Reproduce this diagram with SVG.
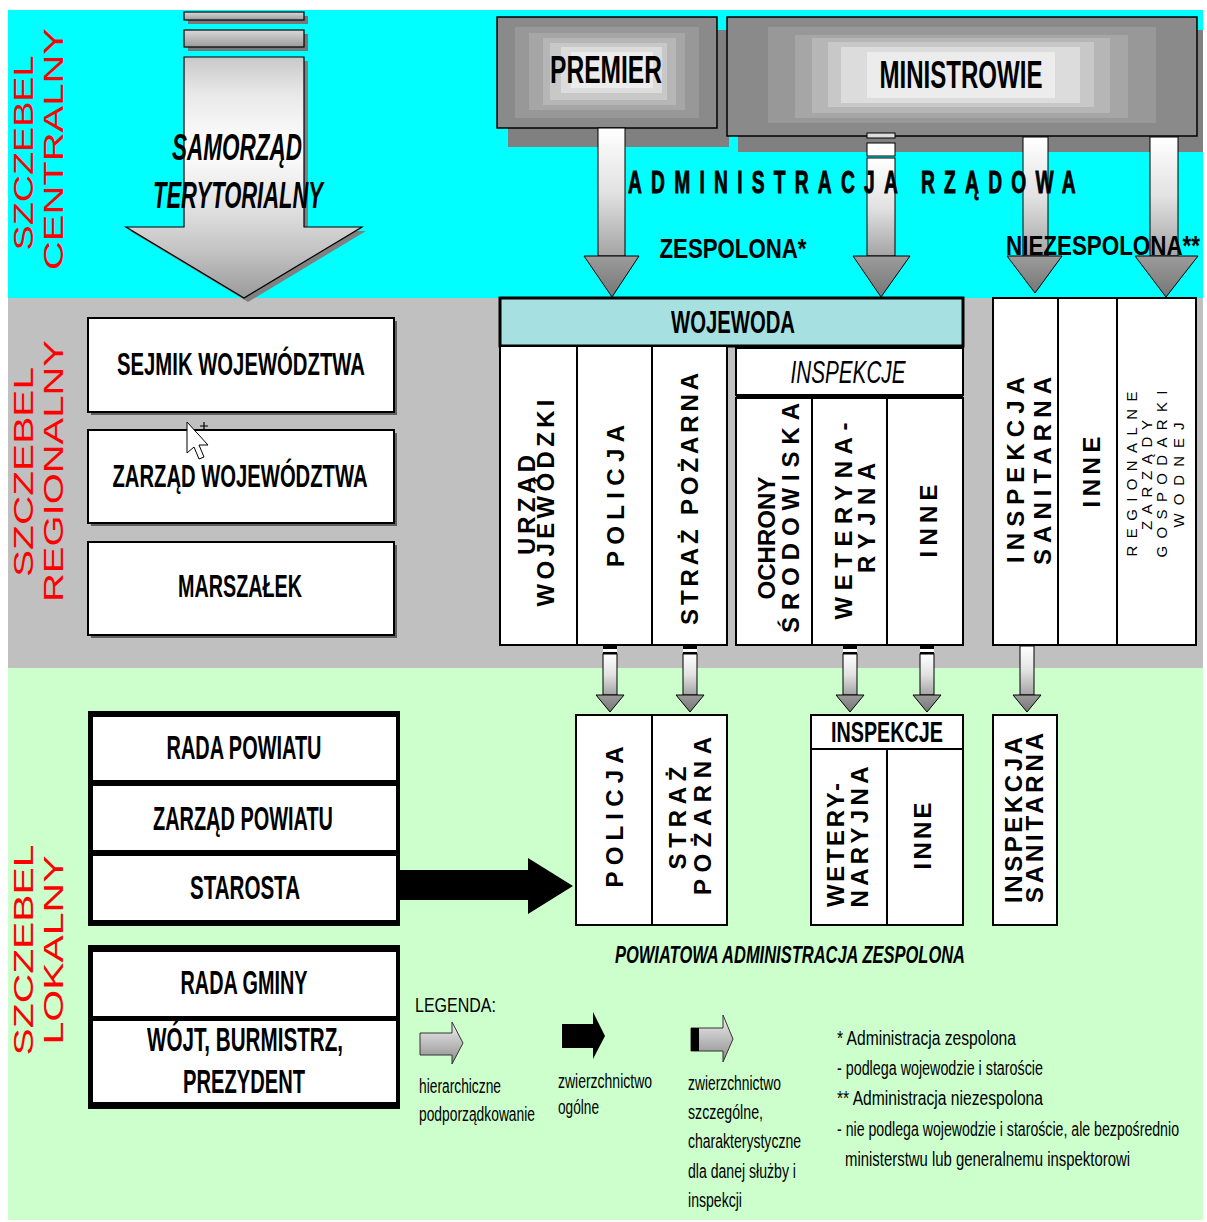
<svg xmlns="http://www.w3.org/2000/svg" width="1207" height="1222" viewBox="0 0 1207 1222">
<style>
.t{font-family:"Liberation Sans",Arial,sans-serif;fill:#000}
.b{font-weight:bold}
.i{font-style:italic}
.c{text-anchor:middle}
.red{font-family:"Liberation Sans",Arial,sans-serif;fill:#ff0000;font-size:28px;text-anchor:middle}
.vt{font-family:"Liberation Sans",Arial,sans-serif;font-weight:bold;font-size:24px;text-anchor:middle;fill:#000}
.vt2{font-family:"Liberation Sans",Arial,sans-serif;font-size:15px;text-anchor:middle;fill:#000}
.box{fill:#fff;stroke:#000;stroke-width:2}
.sh{fill:#606060}
.ln{stroke:#000;stroke-width:2}
.lg{font-family:"Liberation Sans",Arial,sans-serif;font-size:20px;fill:#000}
.ar{stroke:#000;stroke-width:1}
</style>
<defs>
<linearGradient id="gShaft" x1="0" y1="0" x2="0" y2="1">
<stop offset="0" stop-color="#ffffff"/><stop offset="0.5" stop-color="#e2e2e2"/><stop offset="1" stop-color="#a4a4a4"/>
</linearGradient>
<linearGradient id="gHead" x1="0" y1="0" x2="0" y2="1">
<stop offset="0" stop-color="#9c9c9c"/><stop offset="1" stop-color="#767676"/>
</linearGradient>
<linearGradient id="gBig" gradientUnits="userSpaceOnUse" x1="0" y1="57" x2="0" y2="298">
<stop offset="0" stop-color="#c8c8c8"/><stop offset="0.15" stop-color="#e8e8e8"/><stop offset="0.38" stop-color="#ffffff"/><stop offset="0.62" stop-color="#e2e2e2"/><stop offset="0.8" stop-color="#c4c4c4"/><stop offset="1" stop-color="#9a9a9a"/>
</linearGradient>
<linearGradient id="gBar" x1="0" y1="0" x2="0" y2="1">
<stop offset="0" stop-color="#d8d8d8"/><stop offset="1" stop-color="#9c9c9c"/>
</linearGradient>
<linearGradient id="gLeg" x1="0" y1="0" x2="0" y2="1">
<stop offset="0" stop-color="#f2f2f2"/><stop offset="1" stop-color="#8a8a8a"/>
</linearGradient>
</defs>

<!-- bands -->
<rect x="0" y="0" width="1207" height="1222" fill="#ffffff"/>
<rect x="8" y="10" width="1195" height="288" fill="#00ffff"/>
<rect x="8" y="298" width="1195" height="370" fill="#c0c0c0"/>
<rect x="8" y="668" width="1195" height="552" fill="#ccffcc"/>

<!-- level labels -->
<g id="labels">
<text class="red" transform="translate(33,153) rotate(-90)" textLength="195" lengthAdjust="spacingAndGlyphs">SZCZEBEL</text>
<text class="red" transform="translate(63,149) rotate(-90)" textLength="242" lengthAdjust="spacingAndGlyphs">CENTRALNY</text>
<text class="red" transform="translate(33,472) rotate(-90)" textLength="210" lengthAdjust="spacingAndGlyphs">SZCZEBEL</text>
<text class="red" transform="translate(63,471) rotate(-90)" textLength="262" lengthAdjust="spacingAndGlyphs">REGIONALNY</text>
<text class="red" transform="translate(33,950) rotate(-90)" textLength="211" lengthAdjust="spacingAndGlyphs">SZCZEBEL</text>
<text class="red" transform="translate(63,950) rotate(-90)" textLength="189" lengthAdjust="spacingAndGlyphs">LOKALNY</text>
</g>

<!-- samorzad arrow -->
<g id="samorzad">
<rect x="188" y="16" width="120" height="8" fill="#777"/>
<rect x="188" y="34" width="120" height="17" fill="#777"/>
<polygon points="188,61 308,61 308,231 366,231 248,302 130,231 188,231" fill="#808080"/>
<rect x="184" y="12" width="120" height="8" fill="url(#gBar)" stroke="#000" stroke-width="1.2"/>
<rect x="184" y="30" width="120" height="17" fill="url(#gBar)" stroke="#000" stroke-width="1.2"/>
<polygon points="184,57 304,57 304,227 362,227 244,298 126,227 184,227" fill="url(#gBig)" stroke="#000" stroke-width="1.2"/>
<text class="t b i c" x="237" y="160" font-size="36" textLength="130" lengthAdjust="spacingAndGlyphs">SAMORZĄD</text>
<text class="t b i c" x="238" y="208" font-size="36" textLength="170" lengthAdjust="spacingAndGlyphs">TERYTORIALNY</text>
</g>

<!-- premier -->
<g id="premier">
<rect x="508" y="30" width="221" height="117" fill="#808080"/>
<rect x="497" y="17" width="220" height="111" fill="#8a8a8a" stroke="#000" stroke-width="1.5"/>
<rect x="515" y="27" width="184" height="91" fill="#989898"/>
<rect x="529" y="33" width="156" height="77" fill="#a6a6a6"/>
<rect x="543" y="38" width="133" height="67" fill="#b6b6b6"/>
<rect x="550" y="43" width="117" height="57" fill="#c8c8c8"/>
<rect x="561" y="47" width="101" height="46" fill="#dcdcdc"/>
<rect x="571" y="52" width="82" height="36" fill="#ececec"/>
<text class="t b c" x="606" y="83" font-size="38" textLength="112" lengthAdjust="spacingAndGlyphs">PREMIER</text>
</g>

<!-- ministrowie -->
<g id="ministrowie">
<rect x="738" y="30" width="465" height="122" fill="#808080"/>
<rect x="727" y="17" width="470" height="119" fill="#8a8a8a" stroke="#000" stroke-width="1.5"/>
<rect x="768" y="27" width="388" height="96" fill="#989898"/>
<rect x="795" y="35" width="333" height="83" fill="#a6a6a6"/>
<rect x="812" y="38" width="298" height="75" fill="#b6b6b6"/>
<rect x="828" y="42" width="266" height="65" fill="#c8c8c8"/>
<rect x="841" y="47" width="239" height="56" fill="#dcdcdc"/>
<rect x="867" y="52" width="188" height="46" fill="#ececec"/>
<text class="t b c" x="961" y="88" font-size="38" textLength="163" lengthAdjust="spacingAndGlyphs">MINISTROWIE</text>
</g>

<!-- connectors -->
<g id="connectors">
<rect x="598" y="128" width="27" height="128" fill="url(#gShaft)" class="ar"/>
<polygon points="584,256 639,256 612,297" fill="url(#gHead)" class="ar"/>
<rect x="867" y="133" width="28" height="5" fill="#dddddd" class="ar"/>
<rect x="867" y="143" width="28" height="13" fill="#ffffff" class="ar"/>
<rect x="867" y="158" width="28" height="98" fill="url(#gShaft)" class="ar"/>
<polygon points="853,256 910,256 881,297" fill="url(#gHead)" class="ar"/>
<rect x="1023" y="137" width="25" height="119" fill="url(#gShaft)" class="ar"/>
<polygon points="1007,256 1062,256 1035,293" fill="url(#gHead)" class="ar"/>
<rect x="1150" y="137" width="28" height="119" fill="url(#gShaft)" class="ar"/>
<polygon points="1135,256 1198,256 1166,297" fill="url(#gHead)" class="ar"/>
<g>
<rect x="603" y="646" width="14" height="3" fill="#000"/><rect x="603" y="649" width="14" height="3" fill="#fff"/><rect x="603" y="652" width="14" height="2" fill="#000"/>
<rect x="603" y="654" width="14" height="41" fill="url(#gShaft)" class="ar"/>
<polygon points="596,695 624,695 610,712" fill="url(#gHead)" class="ar"/>
</g>
<g>
<rect x="683" y="646" width="14" height="3" fill="#000"/><rect x="683" y="649" width="14" height="3" fill="#fff"/><rect x="683" y="652" width="14" height="2" fill="#000"/>
<rect x="683" y="654" width="14" height="41" fill="url(#gShaft)" class="ar"/>
<polygon points="676,695 704,695 690,712" fill="url(#gHead)" class="ar"/>
</g>
<g>
<rect x="843" y="646" width="14" height="3" fill="#000"/><rect x="843" y="649" width="14" height="3" fill="#fff"/><rect x="843" y="652" width="14" height="2" fill="#000"/>
<rect x="843" y="654" width="14" height="41" fill="url(#gShaft)" class="ar"/>
<polygon points="836,695 864,695 850,712" fill="url(#gHead)" class="ar"/>
</g>
<g>
<rect x="920" y="646" width="14" height="3" fill="#000"/><rect x="920" y="649" width="14" height="3" fill="#fff"/><rect x="920" y="652" width="14" height="2" fill="#000"/>
<rect x="920" y="654" width="14" height="41" fill="url(#gShaft)" class="ar"/>
<polygon points="913,695 941,695 927,712" fill="url(#gHead)" class="ar"/>
</g>
<g>
<rect x="1020" y="646" width="14" height="49" fill="url(#gShaft)" class="ar"/>
<polygon points="1013,695 1041,695 1027,712" fill="url(#gHead)" class="ar"/>
</g>
<polygon points="396,870 528,870 528,858 573,886 528,914 528,900 396,900" fill="#000"/>
</g>

<!-- top labels -->
<g id="admin-labels">
<text class="t b" transform="translate(628,193) scale(0.62,1)" font-size="31" stroke="#000" stroke-width="0.9" textLength="722">ADMINISTRACJA RZĄDOWA</text>
<text class="t b c" x="733" y="258" font-size="28" textLength="147" lengthAdjust="spacingAndGlyphs">ZESPOLONA*</text>
<text class="t b" x="1006" y="255" font-size="28" textLength="194" lengthAdjust="spacingAndGlyphs">NIEZESPOLONA**</text>
</g>

<!-- regional left boxes -->
<g id="sejmik">
<rect x="91" y="321" width="306" height="94" class="sh"/>
<rect x="88" y="318" width="306" height="94" class="box" stroke-width="1.5"/>
<text class="t b c" x="241" y="375" font-size="32" textLength="248" lengthAdjust="spacingAndGlyphs">SEJMIK WOJEWÓDZTWA</text>
</g>
<g id="zarzad-woj">
<rect x="91" y="433" width="306" height="93" class="sh"/>
<rect x="88" y="430" width="306" height="93" class="box" stroke-width="1.5"/>
<text class="t b c" x="240" y="487" font-size="32" textLength="255" lengthAdjust="spacingAndGlyphs">ZARZĄD WOJEWÓDZTWA</text>
</g>
<g id="marszalek">
<rect x="91" y="545" width="306" height="93" class="sh"/>
<rect x="88" y="542" width="306" height="93" class="box" stroke-width="1.5"/>
<text class="t b c" x="240" y="597" font-size="32" textLength="124" lengthAdjust="spacingAndGlyphs">MARSZAŁEK</text>
</g>

<!-- cursor -->
<g id="cursor">
<polygon points="187,422 187,453 194,447 199,459 204,457 199,445 208,445" fill="#fff" stroke="#000" stroke-width="1"/>
<path d="M200,426 h8 M204,422 v8" stroke="#000" stroke-width="1.2"/>
</g>

<!-- wojewoda block -->
<g id="wojewoda">
<rect x="500" y="298" width="463" height="48" fill="#a6e0e0" stroke="#000" stroke-width="3"/>
<text class="t b c" x="733" y="333" font-size="32" textLength="124" lengthAdjust="spacingAndGlyphs">WOJEWODA</text>
</g>
<g id="zespolona-cols">
<rect x="500" y="346" width="227" height="299" class="box"/>
<line x1="577" y1="346" x2="577" y2="645" class="ln" stroke-width="1.5"/>
<line x1="652" y1="346" x2="652" y2="645" class="ln" stroke-width="1.5"/>
<text class="vt" transform="translate(535,505) rotate(-90)" textLength="100">URZĄD</text>
<text class="vt" transform="translate(554,503) rotate(-90)" textLength="207">WOJEWÓDZKI</text>
<text class="vt" transform="translate(624,496) rotate(-90)" textLength="142">POLICJA</text>
<text class="vt" transform="translate(698,499) rotate(-90)" textLength="252">STRAŻ POŻARNA</text>
</g>
<g id="inspekcje-woj">
<rect x="736" y="348" width="227" height="47" class="box"/>
<line x1="736" y1="396" x2="963" y2="396" stroke="#000" stroke-width="4"/>
<text class="t i c" x="848" y="383" font-size="31" textLength="115" lengthAdjust="spacingAndGlyphs">INSPEKCJE</text>
<rect x="736" y="398" width="227" height="247" class="box"/>
<line x1="812" y1="398" x2="812" y2="645" class="ln" stroke-width="1.5"/>
<line x1="887" y1="398" x2="887" y2="645" class="ln" stroke-width="1.5"/>
<text class="vt" transform="translate(775,538) rotate(-90)" textLength="123">OCHRONY</text>
<text class="vt" transform="translate(799,518) rotate(-90)" textLength="230">ŚRODOWISKA</text>
<text class="vt" transform="translate(852,521) rotate(-90)" textLength="197">WETERYNA-</text>
<text class="vt" transform="translate(875,518) rotate(-90)" textLength="110">RYJNA</text>
<text class="vt" transform="translate(937,521) rotate(-90)" textLength="73">INNE</text>
</g>
<g id="niezespolona-cols">
<rect x="993" y="298" width="203" height="347" class="box"/>
<line x1="1058" y1="298" x2="1058" y2="645" class="ln" stroke-width="1.5"/>
<line x1="1117" y1="298" x2="1117" y2="645" class="ln" stroke-width="1.5"/>
<text class="vt" transform="translate(1024,470) rotate(-90)" textLength="186">INSPEKCJA</text>
<text class="vt" transform="translate(1051,471) rotate(-90)" textLength="188">SANITARNA</text>
<text class="vt" transform="translate(1100,472) rotate(-90)" textLength="71">INNE</text>
<text class="vt2" transform="translate(1137,474) rotate(-90)" textLength="165">REGIONALNE</text>
<text class="vt2" transform="translate(1152,475) rotate(-90)" textLength="110">ZARZĄDY</text>
<text class="vt2" transform="translate(1167,474) rotate(-90)" textLength="167">GOSPODARKI</text>
<text class="vt2" transform="translate(1184,475) rotate(-90)" textLength="105">WODNEJ</text>
</g>

<!-- local left boxes -->
<g id="powiat">
<rect x="88" y="711" width="312" height="215" fill="#000"/>
<rect x="93" y="717" width="303" height="63" fill="#fff"/>
<rect x="93" y="786" width="303" height="64" fill="#fff"/>
<rect x="93" y="856" width="303" height="64" fill="#fff"/>
<text class="t b c" x="244" y="759" font-size="33" textLength="155" lengthAdjust="spacingAndGlyphs">RADA POWIATU</text>
<text class="t b c" x="243" y="830" font-size="33" textLength="180" lengthAdjust="spacingAndGlyphs">ZARZĄD POWIATU</text>
<text class="t b c" x="245" y="899" font-size="33" textLength="110" lengthAdjust="spacingAndGlyphs">STAROSTA</text>
</g>
<g id="gmina">
<rect x="88" y="945" width="312" height="164" fill="#000"/>
<rect x="93" y="952" width="303" height="64" fill="#fff"/>
<rect x="93" y="1021" width="303" height="81" fill="#fff"/>
<text class="t b c" x="244" y="994" font-size="33" textLength="127" lengthAdjust="spacingAndGlyphs">RADA GMINY</text>
<text class="t b c" x="245" y="1051" font-size="33" textLength="196" lengthAdjust="spacingAndGlyphs">WÓJT, BURMISTRZ,</text>
<text class="t b c" x="244" y="1093" font-size="33" textLength="122" lengthAdjust="spacingAndGlyphs">PREZYDENT</text>
</g>

<!-- local right boxes -->
<g id="policja-straz-pow">
<rect x="576" y="715" width="151" height="210" class="box"/>
<line x1="652" y1="715" x2="652" y2="925" class="ln" stroke-width="1.5"/>
<text class="vt" transform="translate(623,817) rotate(-90)" textLength="141">POLICJA</text>
<text class="vt" transform="translate(686,818) rotate(-90)" textLength="103">STRAŻ</text>
<text class="vt" transform="translate(711,816) rotate(-90)" textLength="158">POŻARNA</text>
</g>
<g id="inspekcje-pow">
<rect x="811" y="715" width="152" height="210" class="box"/>
<line x1="811" y1="749" x2="963" y2="749" class="ln"/>
<line x1="887" y1="749" x2="887" y2="925" class="ln" stroke-width="1.5"/>
<text class="t b c" x="887" y="742" font-size="30" textLength="112" lengthAdjust="spacingAndGlyphs">INSPEKCJE</text>
<text class="vt" transform="translate(844,845) rotate(-90)" textLength="124">WETERY-</text>
<text class="vt" transform="translate(868,837) rotate(-90)" textLength="141">NARYJNA</text>
<text class="vt" transform="translate(931,836) rotate(-90)" textLength="67">INNE</text>
</g>
<g id="sanitarna-pow">
<rect x="993" y="715" width="64" height="210" class="box"/>
<text class="vt" transform="translate(1022,820) rotate(-90)" textLength="166">INSPEKCJA</text>
<text class="vt" transform="translate(1043,818) rotate(-90)" textLength="170">SANITARNA</text>
</g>
<text class="t b i" x="615" y="963" font-size="24" textLength="350" lengthAdjust="spacingAndGlyphs">POWIATOWA ADMINISTRACJA ZESPOLONA</text>

<!-- legend -->
<g id="legend">
<text class="lg" x="415" y="1012" textLength="81" lengthAdjust="spacingAndGlyphs">LEGENDA:</text>
<polygon points="420,1033 452,1033 452,1022 463,1043 452,1064 452,1055 420,1055" fill="url(#gLeg)" stroke="#333" stroke-width="1"/>
<text class="lg" x="419" y="1093" textLength="82" lengthAdjust="spacingAndGlyphs">hierarchiczne</text>
<text class="lg" x="419" y="1121" textLength="116" lengthAdjust="spacingAndGlyphs">podporządkowanie</text>
<polygon points="562,1024 593,1024 593,1012 605,1036 593,1059 593,1048 562,1048" fill="#000"/>
<text class="lg" x="558" y="1088" textLength="94" lengthAdjust="spacingAndGlyphs">zwierzchnictwo</text>
<text class="lg" x="558" y="1114" textLength="41" lengthAdjust="spacingAndGlyphs">ogólne</text>
<polygon points="691,1028 723,1028 723,1015 733,1039 723,1062 723,1051 691,1051" fill="url(#gLeg)" stroke="#333" stroke-width="1"/>
<rect x="691" y="1028" width="8" height="23" fill="#000"/>
<text class="lg" x="688" y="1090" textLength="93" lengthAdjust="spacingAndGlyphs">zwierzchnictwo</text>
<text class="lg" x="688" y="1119" textLength="75" lengthAdjust="spacingAndGlyphs">szczególne,</text>
<text class="lg" x="688" y="1148" textLength="113" lengthAdjust="spacingAndGlyphs">charakterystyczne</text>
<text class="lg" x="688" y="1178" textLength="108" lengthAdjust="spacingAndGlyphs">dla danej służby i</text>
<text class="lg" x="688" y="1207" textLength="54" lengthAdjust="spacingAndGlyphs">inspekcji</text>
<text class="lg" x="837" y="1045" textLength="179" lengthAdjust="spacingAndGlyphs">* Administracja zespolona</text>
<text class="lg" x="837" y="1075" textLength="206" lengthAdjust="spacingAndGlyphs">- podlega wojewodzie i staroście</text>
<text class="lg" x="837" y="1105" textLength="206" lengthAdjust="spacingAndGlyphs">** Administracja niezespolona</text>
<text class="lg" x="837" y="1136" textLength="342" lengthAdjust="spacingAndGlyphs">- nie podlega wojewodzie i staroście, ale bezpośrednio</text>
<text class="lg" x="845" y="1166" textLength="285" lengthAdjust="spacingAndGlyphs">ministerstwu lub generalnemu inspektorowi</text>
</g>
</svg>
